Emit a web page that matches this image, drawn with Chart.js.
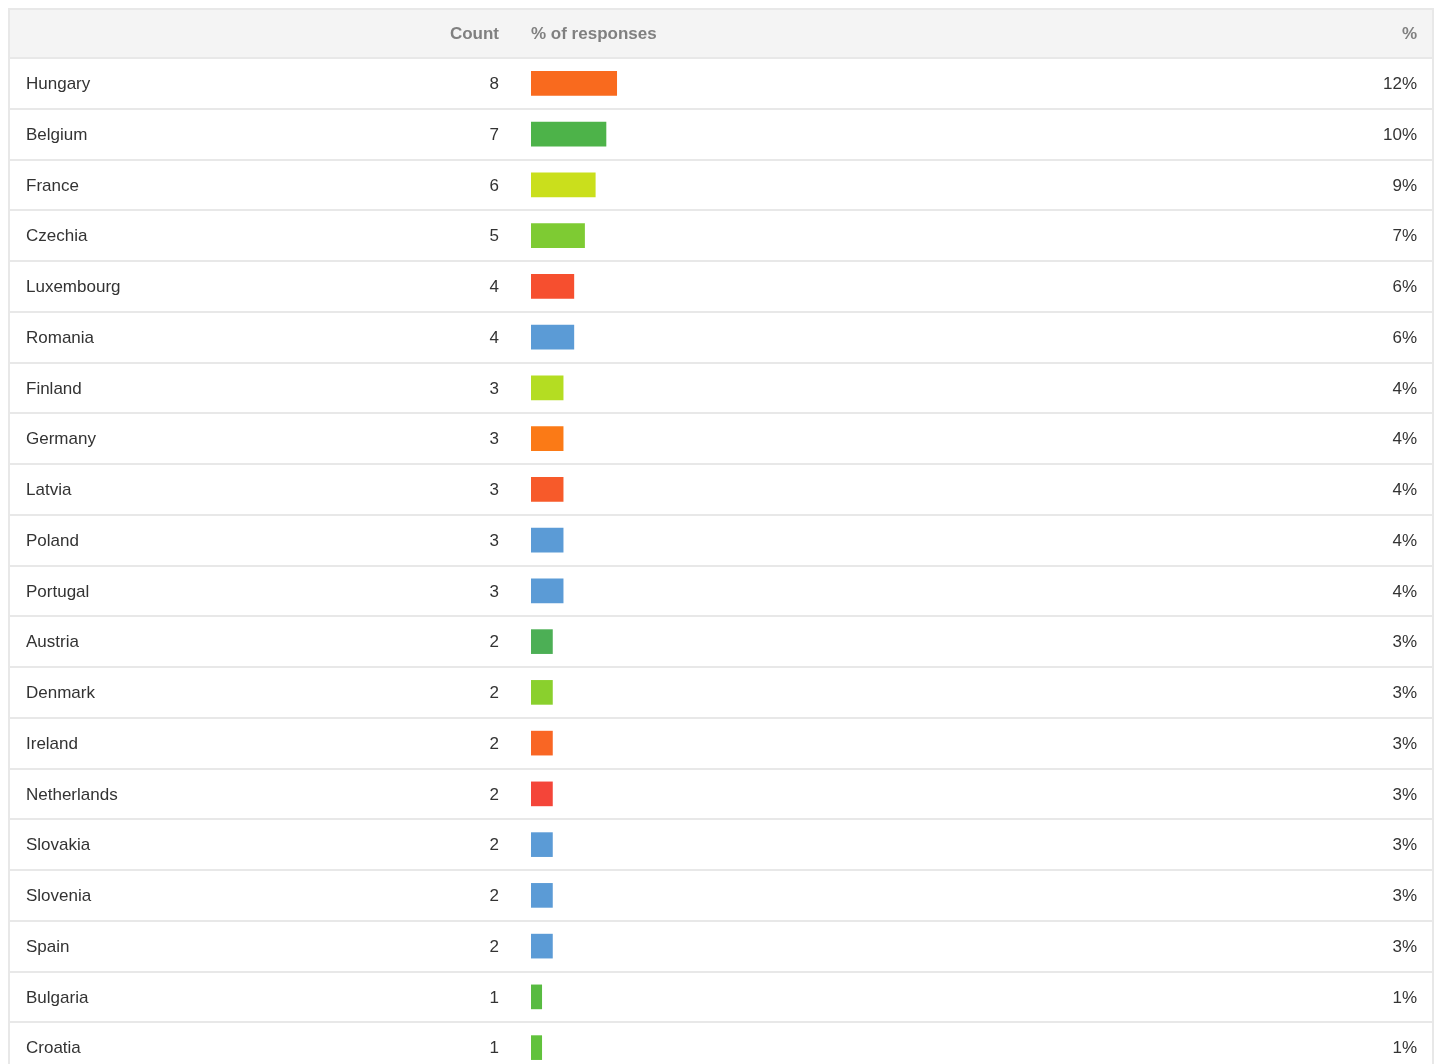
<!DOCTYPE html>
<html>
<head>
<meta charset="utf-8">
<script src="https://cdn.jsdelivr.net/npm/chart.js@4.4.1/dist/chart.umd.min.js"></script>
<style>
  html, body { margin: 0; padding: 0; background: #fff; overflow: hidden; }
  #wrap { width: 1439px; height: 1064px; overflow: hidden; }
</style>
</head>
<body>
<div id="wrap"><canvas id="tabla" width="1439" height="1080"></canvas></div>
<script>
    const paises = ['Hungary', 'Belgium', 'France', 'Czechia', 'Luxembourg', 'Romania', 'Finland',
        'Germany', 'Latvia', 'Poland', 'Portugal', 'Austria', 'Denmark', 'Ireland', 'Netherlands',
        'Slovakia', 'Slovenia', 'Spain', 'Bulgaria', 'Croatia'];
    const conteos = [8, 7, 6, 5, 4, 4, 3, 3, 3, 3, 3, 2, 2, 2, 2, 2, 2, 2, 1, 1];
    const porcentajes = ['12%', '10%', '9%', '7%', '6%', '6%', '4%', '4%', '4%', '4%', '4%',
        '3%', '3%', '3%', '3%', '3%', '3%', '3%', '1%', '1%'];
    const colores = ['#f96a1e', '#4db349', '#cadf1c', '#7ecb33', '#f64f2f', '#5b9bd6', '#b4dd22',
        '#fb7a16', '#f75a2a', '#5b9bd6', '#5b9bd6', '#4caf55', '#8ad02d', '#f96624', '#f44539',
        '#5b9bd6', '#5b9bd6', '#5b9bd6', '#58bb41', '#61c23c'];
    const encabezados = ['Count', '% of responses', '%'];

    const LEFT = 8, RIGHT = 1434, TOP = 8, HEADER_BOTTOM = 58;
    const fuente = '"Liberation Sans", Arial, Helvetica, sans-serif';

    // dibuja la tabla alrededor de las barras
    const tablaPlugin = {
        id: 'tablaPlugin',
        beforeDatasetsDraw(chart) {
            const ctx = chart.ctx;
            const y = chart.scales.y;
            ctx.save();

            // encabezado
            ctx.fillStyle = '#f4f4f4';
            ctx.fillRect(LEFT, TOP, RIGHT - LEFT, HEADER_BOTTOM - TOP);

            ctx.fillStyle = '#e8e8e8';
            ctx.fillRect(LEFT, TOP, RIGHT - LEFT, 2);
            ctx.fillRect(LEFT, TOP, 2, 1080);
            ctx.fillRect(RIGHT - 2, TOP, 2, 1080);
            ctx.fillRect(LEFT, HEADER_BOTTOM - 1, RIGHT - LEFT, 2);

            for (let i = 0; i < paises.length - 1; i++) {
                const sep = (y.getPixelForValue(i) + y.getPixelForValue(i + 1)) / 2;
                ctx.fillRect(LEFT, Math.round(sep) - 1, RIGHT - LEFT, 2);
            }

            const headY = (TOP + HEADER_BOTTOM) / 2 + 1;
            ctx.font = 'bold 17px ' + fuente;
            ctx.fillStyle = '#808080';
            ctx.textBaseline = 'middle';
            ctx.textAlign = 'right';
            ctx.fillText(encabezados[0], 499, headY);
            ctx.fillText(encabezados[2], 1417, headY);
            ctx.textAlign = 'left';
            ctx.fillText(encabezados[1], 531, headY);

            ctx.font = '17px ' + fuente;
            ctx.fillStyle = '#333333';
            paises.forEach((p, i) => {
                const cy = y.getPixelForValue(i) + 1;
                ctx.textAlign = 'left';
                ctx.fillText(p, 26, cy);
                ctx.textAlign = 'right';
                ctx.fillText(String(conteos[i]), 499, cy);
                ctx.fillText(porcentajes[i], 1417, cy);
            });
            ctx.restore();
        }
    };

    new Chart(document.getElementById('tabla'), {
        type: 'bar',
        data: {
            labels: paises,
            datasets: [{
                label: 'Count',
                data: conteos,
                backgroundColor: colores,
                borderWidth: 0,
                barThickness: 24
            }]
        },
        options: {
            indexAxis: 'y',
            responsive: false,
            animation: false,
            layout: {
                padding: { left: 531, right: 5, top: 58, bottom: 7 }
            },
            scales: {
                x: { display: false, min: 0, max: 84.3 },
                y: { display: false }
            },
            plugins: {
                legend: { display: false },
                tooltip: { enabled: false }
            }
        },
        plugins: [tablaPlugin]
    });
</script>
</body>
</html>
